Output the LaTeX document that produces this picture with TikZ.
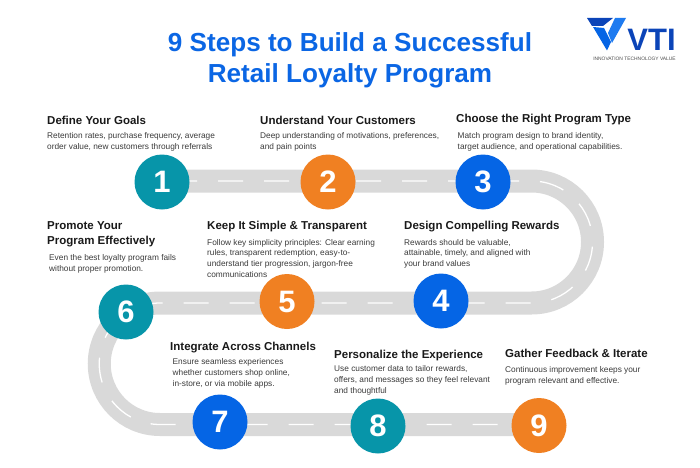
\documentclass[tikz,border=0pt]{standalone}
\usepackage{fontspec}
\setmainfont{Liberation Sans}
\definecolor{teal1}{HTML}{0795A9}
\definecolor{orange1}{HTML}{F08022}
\definecolor{blue1}{HTML}{0565E5}
\definecolor{roadgray}{HTML}{D9D9D9}
\definecolor{titleblue}{HTML}{0B66E4}
\definecolor{logodark}{HTML}{0B44B8}
\definecolor{logolight}{HTML}{1E7BF0}
\definecolor{bodygray}{HTML}{3A3A3A}
\tikzset{
  num/.style={circle,minimum size=55pt,inner sep=0pt,text=white,font=\fontsize{31}{31}\selectfont\bfseries},
  head/.style={anchor=north west,inner sep=0pt,align=left,font=\fontsize{11.5}{15}\selectfont\bfseries,text=black!90},
  body/.style={anchor=north west,inner sep=0pt,align=left,font=\fontsize{8.3}{10.7}\selectfont,text=bodygray},
}
\begin{document}
\begin{tikzpicture}[x=1pt,y=1pt]
\useasboundingbox (0,0) rectangle (700,467);
% road
\coordinate (rs) at (172,286);
\coordinate (re) at (539,42.5);
\def\roadpath{(rs) -- (531.5,286) arc[start angle=90,end angle=-90,radius=61] -- (160,164) arc[start angle=90,end angle=270,radius=60.75] -- (re)}
\draw[roadgray,line width=23pt] \roadpath;
\draw[white,line width=1.3pt,dash pattern=on 25pt off 21pt] \roadpath;
% numbers
\node[num,fill=teal1] (n1) at (162,285) {1};
\node[num,fill=orange1] (n2) at (328,285) {2};
\node[num,fill=blue1] (n3) at (483,285) {3};
\node[num,fill=blue1] (n4) at (441,166) {4};
\node[num,fill=orange1] (n5) at (287,165.5) {5};
\node[num,fill=teal1] (n6) at (126,155) {6};
\node[num,fill=blue1] (n7) at (220,45) {7};
\node[num,fill=teal1] (n8) at (378,41) {8};
\node[num,fill=orange1] (n9) at (539,41.5) {9};
% title
\node[font=\fontsize{26.1}{31}\selectfont\bfseries,text=titleblue,align=center,anchor=center] (title) at (350,407) {9 Steps to Build a Successful\\Retail Loyalty Program};
% headings
\node[head] (h1) at (47,351.5) {Define Your Goals};
\node[head] (h2) at (260,351.5) {Understand Your Customers};
\node[head] (h3) at (456,353.5) {Choose the Right Program Type};
\node[head] (h4) at (404,246) {Design Compelling Rewards};
\node[head] (h5) at (207,246) {Keep It Simple \& Transparent};
\node[head] (h6) at (47,246) {Promote Your\\Program Effectively};
\node[head] (h7) at (170,125) {Integrate Across Channels};
\node[head] (h8) at (334,117) {Personalize the Experience};
\node[head] (h9) at (505,118.5) {Gather Feedback \& Iterate};
% bodies
\node[body] (b1) at (47,334.5) {Retention rates, purchase frequency, average\\order value, new customers through referrals};
\node[body] (b2) at (260,334.5) {Deep understanding of motivations, preferences,\\and pain points};
\node[body] (b3) at (457.5,334.5) {Match program design to brand identity,\\target audience, and operational capabilities.};
\node[body] (b4) at (404,228) {Rewards should be valuable,\\attainable, timely, and aligned with\\your brand values};
\node[body] (b5) at (207,228) {Follow key simplicity principles: Clear earning\\rules, transparent redemption, easy-to-\\understand tier progression, jargon-free\\communications};
\node[body] (b6) at (49,212.5) {Even the best loyalty program fails\\without proper promotion.};
\node[body] (b7) at (172.5,108.5) {Ensure seamless experiences\\whether customers shop online,\\in-store, or via mobile apps.};
\node[body] (b8) at (334,101.5) {Use customer data to tailor rewards,\\offers, and messages so they feel relevant\\and thoughtful};
\node[body] (b9) at (505,100.5) {Continuous improvement keeps your\\program relevant and effective.};
% logo
\fill[logodark] (587,449) -- (613,449) -- (603,441) -- (592,441) -- cycle;
\fill[blue1] (593,440) -- (604,439) -- (611,425) -- (607,416.5) -- cycle;
\fill[logolight] (615,449) -- (626,449) -- (612,424) -- (608,434) -- cycle;
\node[inner sep=0pt,font=\fontsize{31}{31}\selectfont\bfseries,text=logodark] (vti) at (651.5,427.5) {VTI};
\node[inner sep=0pt,font=\fontsize{4.9}{4.9}\selectfont,text=black!70] (tag) at (634.5,408.5) {INNOVATION TECHNOLOGY VALUE};
\end{tikzpicture}
\end{document}
